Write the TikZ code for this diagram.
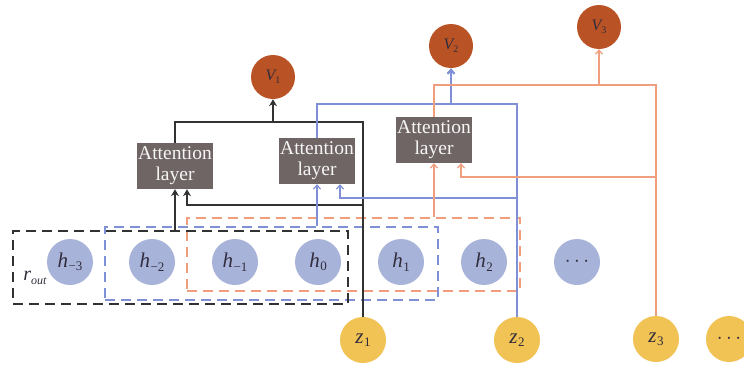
\documentclass[tikz,border=0pt]{standalone}
\usepackage{fontspec}
\setmainfont{Liberation Serif}
\usetikzlibrary{arrows.meta,calc}
\definecolor{vcol}{RGB}{185,82,36}
\definecolor{attcol}{RGB}{112,101,101}
\definecolor{hcol}{RGB}{168,179,218}
\definecolor{zcol}{RGB}{241,194,84}
\definecolor{blcol}{RGB}{128,144,214}
\definecolor{orcol}{RGB}{240,158,125}
\definecolor{dkcol}{RGB}{50,50,50}
\definecolor{txcol}{RGB}{50,45,60}
\newcommand{\hl}[1]{{\itshape h}\kern0.5pt\raisebox{-3.5pt}{\fontsize{13}{13}\selectfont #1}}
\newcommand{\zl}[1]{{\itshape z}\kern0.5pt\raisebox{-3.5pt}{\fontsize{13}{13}\selectfont #1}}
\begin{document}
\begin{tikzpicture}[x=1pt,y=-1pt,
  vnode/.style={circle,fill=vcol,minimum size=44pt,inner sep=0pt,text=txcol,font=\fontsize{16}{16}\selectfont},
  hnode/.style={circle,fill=hcol,minimum size=46pt,inner sep=0pt,text=txcol,font=\fontsize{21}{21}\selectfont},
  znode/.style={circle,fill=zcol,minimum size=46pt,inner sep=0pt,text=txcol,font=\fontsize{21}{21}\selectfont},
  attbox/.style={rectangle,fill=attcol,minimum width=76pt,minimum height=46pt,inner sep=0pt,text=white!94!attcol,align=center,font=\fontsize{19.5}{21}\selectfont},
  dkbox/.style={rectangle,draw=dkcol,line width=2.8pt,dash pattern=on 10pt off 6pt,inner sep=0pt},
  blbox/.style={rectangle,draw=blcol,line width=2pt,dash pattern=on 10pt off 6pt,inner sep=0pt},
  orbox/.style={rectangle,draw=orcol,line width=1.6pt,dash pattern=on 10pt off 6pt,inner sep=0pt},
  dkline/.style={draw=dkcol,line width=2pt},
  blline/.style={draw=blcol,line width=1.2pt},
  orline/.style={draw=orcol,line width=1.2pt},
  dkarr/.style={dkline,-{Stealth[length=7pt,width=8pt]}},
  blarr/.style={blline,-{Straight Barb[length=4pt,width=7pt]}},
  orarr/.style={orline,-{Straight Barb[length=4pt,width=7pt]}}
]
\useasboundingbox (0,0) rectangle (744,367);
\fill[white] (0,0) rectangle (744,367);

% dashed boxes
\node[orbox,minimum width=333pt,minimum height=73pt] (obox) at (353.5,254.5) {};
\node[blbox,minimum width=333pt,minimum height=73pt] (bbox) at (271.5,263.5) {};
\node[dkbox,minimum width=335pt,minimum height=73pt] (kbox) at (180.5,267.5) {};

% output nodes
\node[vnode] (v1) at (273,77) {{\itshape V}\raisebox{-3pt}{\fontsize{10}{10}\selectfont 1}};
\node[vnode] (v2) at (451,46) {{\itshape V}\raisebox{-3pt}{\fontsize{10}{10}\selectfont 2}};
\node[vnode] (v3) at (599,27) {{\itshape V}\raisebox{-3pt}{\fontsize{10}{10}\selectfont 3}};

% attention layers
\node[attbox] (a1) at (175,166) {Attention\\layer};
\node[attbox] (a2) at (317,161) {Attention\\layer};
\node[attbox] (a3) at (434,140) {Attention\\layer};

% hidden states
\node[hnode] (hm3) at (70,262) {\hl{−3}};
\node[hnode] (hm2) at (152,262) {\hl{−2}};
\node[hnode] (hm1) at (235,262) {\hl{−1}};
\node[hnode] (h0) at (318,262) {\hl{0}};
\node[hnode] (h1) at (401,262) {\hl{1}};
\node[hnode] (h2) at (484,262) {\hl{2}};
\node[hnode] (hd) at (577,262) {$\cdots$};

% inputs
\node[znode] (z1) at (363,340) {\zl{1}};
\node[znode] (z2) at (517,340) {\zl{2}};
\node[znode] (z3) at (656,339) {\zl{3}};
\node[znode] (zd) at (729,339) {$\cdots$};

% r_out label
\node[text=txcol,font=\fontsize{20}{20}\selectfont,inner sep=0pt] (rout) at (35,278) {{\itshape r}\raisebox{-4pt}{\fontsize{12}{12}\selectfont\itshape out}};

% black connectors
\draw[dkline] (a1.north) -- (a1.north |- 0,122) -| (z1.north);
\draw[dkarr] (v1.south |- 0,122) -- (v1.south);
\draw[dkarr] (z1.north |- 0,205) -| ($(a1.south)+(12,0)$);
\draw[dkarr] (kbox.north -| a1.south) -- (a1.south);

% blue connectors
\draw[blline] (a2.north) -- (a2.north |- 0,104) -| (z2.north);
\draw[blarr,line width=2.2pt] (v2.south |- 0,104) -- (v2.south);
\draw[blarr] (z2.north |- 0,198) -| ($(a2.south)+(23,0)$);
\draw[blarr] (bbox.north -| a2.south) -- (a2.south);

% orange connectors
\draw[orline] (a3.north) -- (a3.north |- 0,85) -| (z3.north);
\draw[orarr] (v3.south |- 0,85) -- (v3.south);
\draw[orarr] (z3.north |- 0,177) -| ($(a3.south)+(27,0)$);
\draw[orarr] (obox.north -| a3.south) -- (a3.south);
\end{tikzpicture}
\end{document}
